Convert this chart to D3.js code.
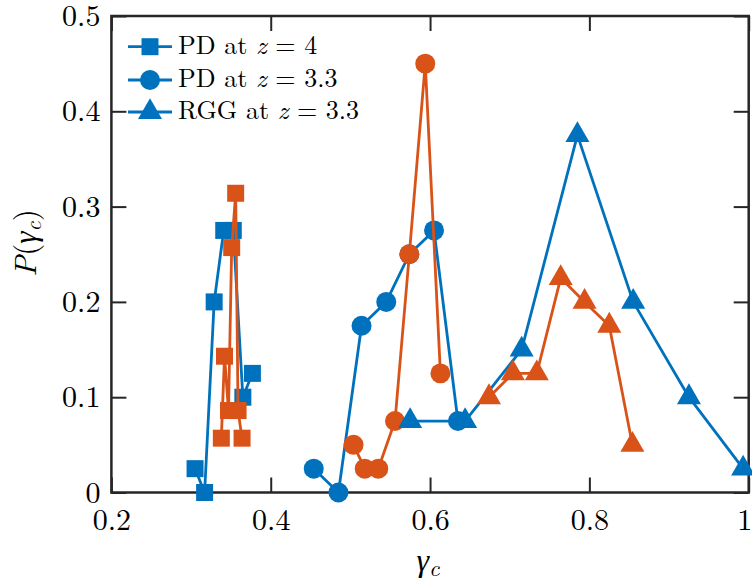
<!DOCTYPE html>
<html>
<head>
<meta charset="utf-8">
<script src="https://cdn.jsdelivr.net/npm/d3@7"></script>
<style>
  html, body { margin: 0; padding: 0; background: #fff; }
  svg { display: block; }
</style>
</head>
<body>
<svg id="chart" width="752" height="585"></svg>
<script>
// ---- data ----
const xTicks = [0.2, 0.4, 0.6, 0.8, 1];
const xTickLabels = ["0.2", "0.4", "0.6", "0.8", "1"];
const yTicks = [0, 0.1, 0.2, 0.3, 0.4, 0.5];
const yTickLabels = ["0", "0.1", "0.2", "0.3", "0.4", "0.5"];

const sqBlueX = [0.305, 0.317, 0.329, 0.341, 0.353, 0.365, 0.377];
const sqBlueY = [0.025, 0, 0.2, 0.275, 0.275, 0.1, 0.125];
const sqOrangeX = [0.338, 0.342, 0.347, 0.351, 0.356, 0.359, 0.364];
const sqOrangeY = [0.057, 0.143, 0.086, 0.257, 0.314, 0.086, 0.057];

const circBlueX = [0.454, 0.485, 0.514, 0.545, 0.574, 0.605, 0.635];
const circBlueY = [0.025, 0, 0.175, 0.2, 0.25, 0.275, 0.075];
const circOrangeX = [0.504, 0.518, 0.535, 0.556, 0.574, 0.594, 0.613];
const circOrangeY = [0.05, 0.025, 0.025, 0.075, 0.25, 0.45, 0.125];

const triBlueX = [0.575, 0.644, 0.715, 0.785, 0.855, 0.925, 0.993];
const triBlueY = [0.075, 0.075, 0.15, 0.375, 0.2, 0.1, 0.025];
const triOrangeX = [0.674, 0.704, 0.734, 0.764, 0.794, 0.825, 0.854];
const triOrangeY = [0.1, 0.125, 0.125, 0.225, 0.2, 0.175, 0.05];

const legendLabels = ["PD at ", "PD at ", "RGG at "];
const legendValues = ["4", "3.3", "3.3"];

const BLUE = "#0072BD", ORANGE = "#D95319", AXIS = "#262626";
const FONT = "'Latin Modern Roman', 'CMU Serif', 'Liberation Serif', serif";

// ---- layout ----
const L = 111.4, R = 748.7, T = 16, B = 492.5;
const svg = d3.select("#chart");
const x = d3.scaleLinear().domain([0.2, 1]).range([L, R]);
const y = d3.scaleLinear().domain([0, 0.5]).range([B, T]);

const TICK = 15;

// axes
const gx = svg.append("g").attr("transform", `translate(0,${B})`)
  .call(d3.axisBottom(x).tickValues(xTicks).tickFormat((d, i) => xTickLabels[i])
    .tickSizeInner(-TICK).tickSizeOuter(0).tickPadding(16));
const gy = svg.append("g").attr("transform", `translate(${L},0)`)
  .call(d3.axisLeft(y).tickValues(yTicks).tickFormat((d, i) => yTickLabels[i])
    .tickSizeInner(-TICK).tickSizeOuter(0).tickPadding(11));
const gxt = svg.append("g").attr("transform", `translate(0,${T})`)
  .call(d3.axisTop(x).tickValues(xTicks).tickFormat("").tickSizeInner(-TICK).tickSizeOuter(0));
const gyr = svg.append("g").attr("transform", `translate(${R},0)`)
  .call(d3.axisRight(y).tickValues(yTicks).tickFormat("").tickSizeInner(-TICK).tickSizeOuter(0));

[gx, gy, gxt, gyr].forEach(g => {
  g.select(".domain").remove();
  g.selectAll(".tick line").attr("stroke", AXIS).attr("stroke-width", 2);
  g.selectAll(".tick text").attr("font-size", 30).style("font-family", FONT).attr("fill", "#000");
});
// keep the last x tick label inside the window, as it sits at the very edge
gx.selectAll(".tick text").filter((d, i) => i === xTicks.length - 1).attr("text-anchor", "end").attr("dx", 3);

// frame
svg.append("rect").attr("x", L).attr("y", T).attr("width", R - L).attr("height", B - T)
  .attr("fill", "none").attr("stroke", AXIS).attr("stroke-width", 2.5);

// series
const series = [
  { xs: sqBlueX, ys: sqBlueY, color: BLUE, sym: d3.symbolSquare, size: 289 },
  { xs: sqOrangeX, ys: sqOrangeY, color: ORANGE, sym: d3.symbolSquare, size: 289 },
  { xs: circBlueX, ys: circBlueY, color: BLUE, sym: d3.symbolCircle, size: 314 },
  { xs: circOrangeX, ys: circOrangeY, color: ORANGE, sym: d3.symbolCircle, size: 314 },
  { xs: triBlueX, ys: triBlueY, color: BLUE, sym: d3.symbolTriangle, size: 250 },
  { xs: triOrangeX, ys: triOrangeY, color: ORANGE, sym: d3.symbolTriangle, size: 250 }
];

const line = d3.line().x(d => x(d[0])).y(d => y(d[1]));
series.forEach(s => {
  const pts = s.xs.map((v, i) => [v, s.ys[i]]);
  const g = svg.append("g");
  g.append("path").attr("d", line(pts)).attr("fill", "none")
    .attr("stroke", s.color).attr("stroke-width", 2.8).attr("stroke-linejoin", "round");
  g.selectAll("path.m").data(pts).enter().append("path").attr("class", "m")
    .attr("transform", d => `translate(${x(d[0])},${y(d[1])})`)
    .attr("d", d3.symbol().type(s.sym).size(s.size)())
    .attr("fill", s.color);
});

// legend
const legSyms = [
  { sym: d3.symbolSquare, size: 289 },
  { sym: d3.symbolCircle, size: 314 },
  { sym: d3.symbolTriangle, size: 250 }
];
const legY = [46.7, 80, 112];
legSyms.forEach((s, i) => {
  const g = svg.append("g");
  g.append("line").attr("x1", 128).attr("x2", 172).attr("y1", legY[i]).attr("y2", legY[i])
    .attr("stroke", BLUE).attr("stroke-width", 2.8);
  g.append("path").attr("transform", `translate(150,${legY[i]})`)
    .attr("d", d3.symbol().type(s.sym).size(s.size)()).attr("fill", BLUE);
  const t = g.append("text").attr("x", 178).attr("y", legY[i] + 7).attr("font-size", 26)
    .style("font-family", FONT).style("white-space", "pre").attr("xml:space", "preserve");
  t.append("tspan").text(legendLabels[i]);
  t.append("tspan").style("font-style", "italic").text("z");
  t.append("tspan").text(" = " + legendValues[i]);
});

// x label
const xl = svg.append("text").attr("x", 428).attr("y", 571).attr("text-anchor", "middle")
  .attr("font-size", 32).style("font-family", FONT);
xl.append("tspan").style("font-style", "italic").text("γ");
xl.append("tspan").style("font-style", "italic").attr("font-size", 23).attr("dy", 5).text("c");

// y label
const yl = svg.append("text").attr("transform", "translate(36,243) rotate(-90)")
  .attr("text-anchor", "middle").attr("font-size", 31).style("font-family", FONT);
yl.append("tspan").style("font-style", "italic").text("P");
yl.append("tspan").text("(");
yl.append("tspan").style("font-style", "italic").text("γ");
yl.append("tspan").style("font-style", "italic").attr("font-size", 22).attr("dy", 5).text("c");
yl.append("tspan").attr("dy", -5).text(")");
</script>
</body>
</html>
